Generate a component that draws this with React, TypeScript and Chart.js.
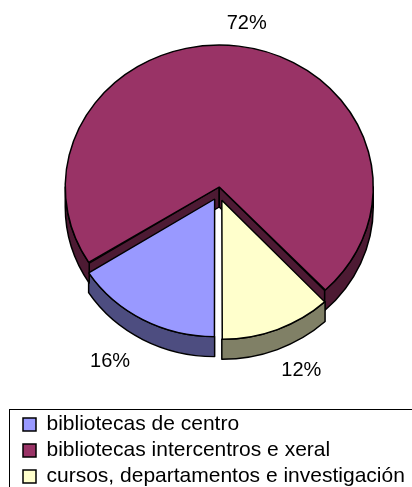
import React, { useEffect, useRef } from 'react';
import { Chart, registerables } from 'chart.js';

Chart.register(...registerables);

const categories = [
  'bibliotecas de centro',
  'bibliotecas intercentros e xeral',
  'cursos, departamentos e investigación',
];
const shares = [16, 72, 12];
const topColors = ['#9999FF', '#993366', '#FFFFCC'];
const sideColors = ['#4D4D80', '#4D1A33', '#808066'];
const explode = [32, 24, 36]; // Chart.js v4 arc offset (translation = value / 4)

const FONT = "'Liberation Sans', Arial, sans-serif";
const FLAT = 0.922; // vertical squash of the pie (3D tilt)
const DEPTH = 20; // screen px thickness of the pie
const LABEL_FX = 1.52;
const LABEL_FY = 1.15;
const SHIFT_X = 3.5; // nudge of the pie inside the plot area
const SHIFT_Y = -12;

const pie3d = {
  id: 'pie3d',
  beforeDatasetsDraw(chart: any) {
    const meta = chart.getDatasetMeta(0);
    const arcs = meta.data;
    if (!arcs.length) return;
    const ctx = chart.ctx;
    const ox = arcs[0].x;
    const oy = arcs[0].y;
    ctx.save();
    (chart as any).$pie3dSaved = true;
    ctx.translate(ox + SHIFT_X, oy + SHIFT_Y);
    ctx.scale(1, FLAT);
    ctx.translate(-ox, -oy);
    const D = DEPTH / FLAT;
    const geo = arcs.map((el: any) => {
      const s = el.startAngle;
      const e = el.endAngle;
      const off = (el.options.offset || 0) / 4;
      const mid = (s + e) / 2;
      const fix = 1 - Math.sin(Math.min(Math.PI, e - s));
      return {
        s,
        e,
        cx: el.x + Math.cos(mid) * off,
        cy: el.y + Math.sin(mid) * off,
        r: el.outerRadius + off * fix,
      };
    });
    ctx.lineWidth = 1.5;
    ctx.strokeStyle = '#000';
    ctx.lineJoin = 'round';
    // radial side faces
    geo.forEach((g: any, i: number) => {
      ctx.fillStyle = sideColors[i];
      const edges: number[] = [];
      if (Math.cos(g.s) < -1e-6) edges.push(g.s);
      if (Math.cos(g.e) > 1e-6) edges.push(g.e);
      edges.forEach((a) => {
        const px = g.cx + g.r * Math.cos(a);
        const py = g.cy + g.r * Math.sin(a);
        ctx.beginPath();
        ctx.moveTo(g.cx, g.cy);
        ctx.lineTo(px, py);
        ctx.lineTo(px, py + D);
        ctx.lineTo(g.cx, g.cy + D);
        ctx.closePath();
        ctx.fill();
        ctx.stroke();
      });
    });
    // outer curved faces (front half only)
    geo.forEach((g: any, i: number) => {
      ctx.fillStyle = sideColors[i];
      for (let k = -1; k <= 2; k++) {
        const a = Math.max(g.s, 2 * Math.PI * k);
        const b = Math.min(g.e, 2 * Math.PI * k + Math.PI);
        if (b - a > 1e-4) {
          ctx.beginPath();
          ctx.arc(g.cx, g.cy, g.r, a, b);
          ctx.lineTo(g.cx + g.r * Math.cos(b), g.cy + g.r * Math.sin(b) + D);
          ctx.arc(g.cx, g.cy + D, g.r, b, a, true);
          ctx.closePath();
          ctx.fill();
          ctx.stroke();
        }
      }
    });
  },
  afterDatasetsDraw(chart: any) {
    const ctx = chart.ctx;
    if ((chart as any).$pie3dSaved) {
      ctx.restore();
      (chart as any).$pie3dSaved = false;
    }
    const meta = chart.getDatasetMeta(0);
    const total = shares.reduce((a, b) => a + b, 0);
    ctx.save();
    ctx.font = `20px ${FONT}`;
    ctx.fillStyle = '#000';
    ctx.textAlign = 'center';
    ctx.textBaseline = 'middle';
    meta.data.forEach((el: any, i: number) => {
      const mid = (el.startAngle + el.endAngle) / 2;
      const R = el.outerRadius;
      const x = el.x + SHIFT_X + Math.cos(mid) * R * LABEL_FX;
      const y = el.y + SHIFT_Y + Math.sin(mid) * R * LABEL_FY + (Math.sin(mid) > 0 ? DEPTH : 0);
      ctx.fillText(Math.round((shares[i] / total) * 100) + '%', x, y);
    });
    ctx.restore();
  },
  afterDraw(chart: any) {
    const legend = chart.legend;
    if (!legend) return;
    const ctx = chart.ctx;
    ctx.save();
    ctx.strokeStyle = '#000';
    ctx.lineWidth = 1;
    ctx.strokeRect(legend.left - 8.5, legend.top + 0.5, legend.width + 60, legend.height + 60);
    ctx.restore();
  },
};

export default function App() {
  const ref = useRef<HTMLCanvasElement | null>(null);
  useEffect(() => {
    if (!ref.current) return;
    const chart = new Chart(ref.current, {
      type: 'pie',
      data: {
        labels: categories,
        datasets: [
          {
            data: shares,
            backgroundColor: topColors,
            borderColor: '#000',
            borderWidth: 1.5,
            offset: explode,
          },
        ],
      },
      options: {
        responsive: false,
        animation: false,
        events: [],
        rotation: 180,
        radius: 148,
        layout: { padding: { top: 0, left: 18, right: 0, bottom: 0 } },
        plugins: {
          tooltip: { enabled: false },
          legend: {
            position: 'bottom',
            align: 'start',
            labels: {
              boxWidth: 13,
              boxHeight: 13,
              padding: 5,
              color: '#000',
              font: { family: FONT, size: 21 },
            },
          },
        },
      } as any,
      plugins: [pie3d as any],
    });
    return () => chart.destroy();
  }, []);
  return (
    <div
      style={{
        position: 'absolute',
        left: 0,
        top: 0,
        width: 412,
        height: 487,
        overflow: 'hidden',
        background: '#fff',
      }}
    >
      <canvas ref={ref} width={412} height={497} style={{ display: 'block' }} />
    </div>
  );
}
